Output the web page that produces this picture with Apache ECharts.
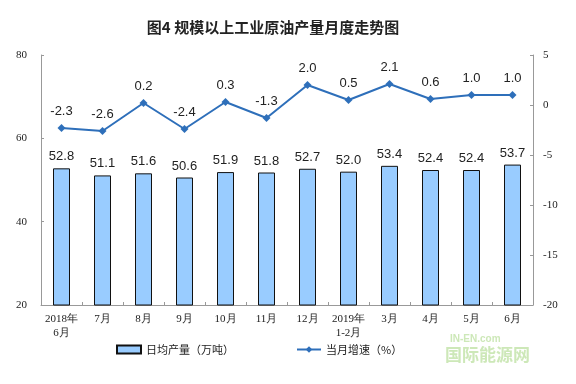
<!DOCTYPE html>
<html><head><meta charset="utf-8">
<script src="https://cdn.jsdelivr.net/npm/echarts@6/dist/echarts.min.js"></script>
<style>html,body{margin:0;padding:0;background:#fff}#c{width:576px;height:384px}</style>
</head><body><div id="c"></div>
<script>
const categories = ['2018年\n6月','7月','8月','9月','10月','11月','12月','2019年\n1-2月','3月','4月','5月','6月'];
const output = [52.8, 51.1, 51.6, 50.6, 51.9, 51.8, 52.7, 52.0, 53.4, 52.4, 52.4, 53.7];
const growth = [-2.3, -2.6, 0.2, -2.4, 0.3, -1.3, 2.0, 0.5, 2.1, 0.6, 1.0, 1.0];
const leftTicks = [20, 80, 20];
const rightTicks = [-20, 5, 5];

const chart = echarts.init(document.getElementById('c'));
const serif = '"Liberation Serif","DejaVu Serif",serif';
const sans = '"Liberation Sans","Noto Sans CJK SC",sans-serif';
chart.setOption({
  animation: false,
  title: {text: '图4 规模以上工业原油产量月度走势图', left: 268, top: 15, textAlign: 'center',
    textStyle: {fontFamily: '"Noto Sans CJK SC",sans-serif', fontSize: 15, fontWeight: 'bold', color: '#222'}},
  legend: {
    bottom: 24, left: 111, itemGap: 62, itemWidth: 24, itemHeight: 8,
    textStyle: {fontFamily: '"Noto Sans CJK SC",sans-serif', fontSize: 11, color: '#222'},
    data: [{name: '日均产量（万吨）', icon: 'rect'}, {name: '当月增速（%）'}]
  },
  grid: {left: 41, right: 43, top: 55, bottom: 79},
  xAxis: {
    type: 'category', data: categories,
    axisLine: {onZero: false, lineStyle: {color: '#999'}},
    axisTick: {show: true, inside: true, length: 3, lineStyle: {color: '#999'}},
    axisLabel: {interval: 0, fontFamily: serif, fontSize: 11, color: '#222', lineHeight: 14, margin: 7}
  },
  yAxis: [
    {type: 'value', min: leftTicks[0], max: leftTicks[1], interval: leftTicks[2],
     splitLine: {show: false},
     axisLine: {show: true, lineStyle: {color: '#999'}},
     axisTick: {show: true, inside: true, length: 3, lineStyle: {color: '#999'}},
     axisLabel: {fontFamily: serif, fontSize: 11, color: '#222', margin: 14}},
    {type: 'value', min: rightTicks[0], max: rightTicks[1], interval: rightTicks[2],
     splitLine: {show: false},
     axisLine: {show: true, lineStyle: {color: '#999'}},
     axisTick: {show: true, inside: true, length: 3, lineStyle: {color: '#999'}},
     axisLabel: {fontFamily: serif, fontSize: 11, color: '#222', margin: 10}}
  ],
  series: [
    {name: '日均产量（万吨）', type: 'bar', data: output, barWidth: 17, yAxisIndex: 0,
     itemStyle: {color: '#99CCFF', borderColor: '#111', borderWidth: 1},
     label: {show: true, position: 'top', distance: 5, fontFamily: sans, fontSize: 13, color: '#222',
       formatter: p => p.value.toFixed(1)}},
    {name: '当月增速（%）', type: 'line', data: growth, yAxisIndex: 1,
     symbol: 'diamond', symbolSize: 8,
     lineStyle: {color: '#2E6FBA', width: 2}, itemStyle: {color: '#2E6FBA'},
     label: {show: true, position: 'top', distance: 6, fontFamily: sans, fontSize: 13, color: '#222',
       formatter: p => p.value.toFixed(1)}}
  ],
  graphic: [
    {type: 'text', left: 450, top: 334, style: {text: 'IN-EN.com', fill: '#cde8b8', font: 'bold 10px "Liberation Sans",sans-serif'}},
    {type: 'text', left: 445, top: 346, style: {text: '国际能源网', fill: '#cde8b8', font: 'bold 17px "Noto Sans CJK SC",sans-serif'}}
  ]
});
</script></body></html>
